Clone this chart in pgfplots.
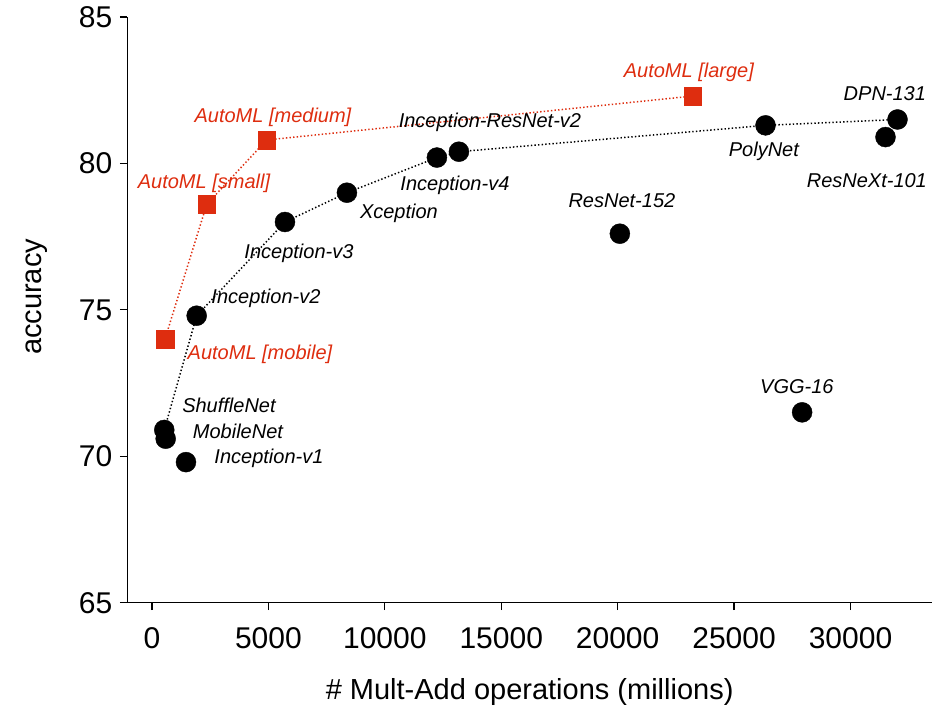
\documentclass[border=0pt]{standalone}
\usepackage{pgfplots}
\pgfplotsset{compat=1.18}
\usepackage{fontspec}
\setmainfont{Liberation Sans}
\definecolor{automl}{RGB}{222,45,15}
\begin{document}
\begin{tikzpicture}
\begin{axis}[
  scale only axis, width=804.7pt, height=585.7pt,
  xmin=-1060, xmax=33500, ymin=65, ymax=85,
  axis lines*=left,
  axis line style={line width=1.2pt},
  tick align=outside,
  major tick length=7.5pt,
  tick style={line width=1.2pt, black},
  xtick={0,5000,...,30000}, ytick={65,70,...,85},
  minor tick num=0,
  scaled ticks=false,
  /pgf/number format/1000 sep={},
  /pgf/number format/assume math mode=true,
  tick label style={font=\fontsize{30}{32}\selectfont},
  xticklabel style={yshift=-14pt},
  yticklabel style={xshift=-4pt},
  label style={font=\fontsize{29}{32}\selectfont},
  xlabel={\# Mult-Add operations (millions)},
  ylabel={accuracy},
  xlabel style={at={(axis description cs:0.5,-0.165)}, anchor=base},
  ylabel style={at={(axis description cs:-0.1072,0.522)}, anchor=base, rotate=0},
  clip=false,
]
% black dotted frontier
\addplot[black, line width=1.5pt, dash pattern=on 1.4pt off 2.2pt, no marks] coordinates {
  (528,70.9) (1919,74.8) (5711,78.0) (8373,79.0) (12237,80.2) (13182,80.4) (26350,81.3) (32018,81.5)
};
% red dotted AutoML
\addplot[automl, line width=1.5pt, dash pattern=on 1.4pt off 2.2pt, no marks] coordinates {
  (558,74.0) (2349,78.6) (4925,80.8) (23216,82.3)
};
% black points
\addplot[only marks, mark=*, mark size=10pt, black] coordinates {
  (528,70.9) (588,70.6) (1460,69.8) (1919,74.8) (5711,78.0) (8373,79.0)
  (12237,80.2) (13182,80.4) (20094,77.6) (26350,81.3) (31503,80.9) (32018,81.5) (27922,71.5)
};
% red squares
\addplot[only marks, mark=square*, mark size=8.8pt, automl] coordinates {
  (558,74.0) (2349,78.6) (4925,80.8) (23216,82.3)
};
\begin{scope}[every node/.style={font=\fontsize{20}{22}\selectfont\itshape, anchor=base, inner sep=0pt}]
\node[automl] at (axis cs:23059,82.95) {AutoML [large]};
\node[automl] at (axis cs:5196,81.41) {AutoML [medium]};
\node[automl] at (axis cs:2233,79.16) {AutoML [small]};
\node[automl] at (axis cs:4638,73.32) {AutoML [mobile]};
\node at (axis cs:14514,81.24) {Inception-ResNet-v2};
\node at (axis cs:13011,79.06) {Inception-v4};
\node at (axis cs:10606,78.13) {Xception};
\node at (axis cs:6312,76.77) {Inception-v3};
\node at (axis cs:4895,75.23) {Inception-v2};
\node at (axis cs:3306,71.48) {ShuffleNet};
\node at (axis cs:3693,70.62) {MobileNet};
\node at (axis cs:5024,69.77) {Inception-v1};
\node at (axis cs:20182,78.51) {ResNet-152};
\node at (axis cs:26279,80.22) {PolyNet};
\node at (axis cs:30702,79.19) {ResNeXt-101};
\node at (axis cs:31475,82.16) {DPN-131};
\node at (axis cs:27696,72.16) {VGG-16};
\end{scope}
\end{axis}
\pgfresetboundingbox
\path (current axis.south west) ++(-127.3pt,-104.3pt) rectangle +(932pt,707pt);
\end{tikzpicture}
\end{document}
